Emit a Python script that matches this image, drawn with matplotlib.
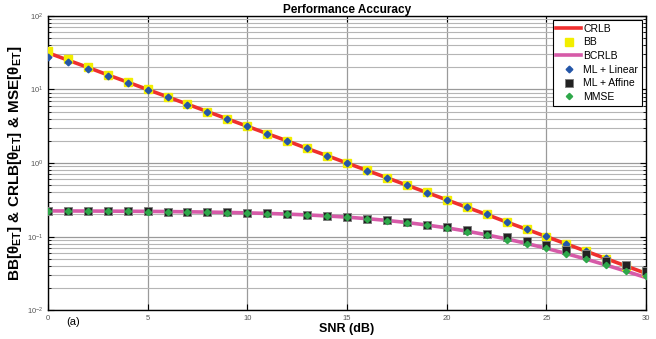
import matplotlib
matplotlib.use("Agg")
import matplotlib.pyplot as plt
from matplotlib.ticker import LogLocator, FixedLocator

plt.rcParams['font.family'] = ['Liberation Sans', 'DejaVu Sans']
plt.rcParams['mathtext.fontset'] = 'custom'
plt.rcParams['mathtext.rm'] = 'Liberation Sans'
plt.rcParams['mathtext.bf'] = 'Liberation Sans:bold'
plt.rcParams['mathtext.it'] = 'Liberation Sans:italic'

snr = list(range(0, 31))
crlb = [31.6, 25.1, 20.0, 15.8, 12.6, 10.0, 7.94, 6.31, 5.01, 3.98, 3.16,
        2.51, 2.00, 1.58, 1.26, 1.00, 0.794, 0.631, 0.501, 0.398, 0.316,
        0.251, 0.200, 0.158, 0.126, 0.100, 0.0794, 0.0631, 0.0501, 0.0398, 0.0316]
bb = [33.0, 25.6, 20.2, 15.9, 12.7, 10.0, 7.95, 6.32, 5.02, 3.99, 3.17,
      2.52, 2.00, 1.59, 1.26, 1.00, 0.795, 0.632, 0.502, 0.399, 0.317,
      0.252, 0.200, 0.159, 0.126, 0.100, 0.0795, 0.0632, 0.0502, 0.0399, 0.0330]
bcrlb = [0.2236, 0.2232, 0.2227, 0.2221, 0.2213, 0.2203, 0.2190, 0.2175, 0.2155,
         0.2132, 0.2103, 0.2067, 0.2024, 0.1972, 0.1911, 0.1838, 0.1755, 0.1660,
         0.1554, 0.1438, 0.1315, 0.1188, 0.1058, 0.0930, 0.0808, 0.0693, 0.0587,
         0.0493, 0.0410, 0.0338, 0.0277]
ml_linear = [27.9, 23.4, 18.8, 15.1, 12.3, 9.85, 7.85, 6.25, 4.98, 3.96, 3.15,
             2.50, 1.99, 1.58, 1.26, 1.00, 0.792, 0.630, 0.500, 0.397, 0.315,
             0.250, 0.200, 0.158, 0.126, 0.101, 0.0800, 0.0640, 0.0510, 0.0405, 0.0330]
ml_affine = [0.224, 0.223, 0.223, 0.222, 0.221, 0.220, 0.219, 0.217, 0.215,
             0.213, 0.210, 0.207, 0.202, 0.197, 0.191, 0.184, 0.176, 0.167,
             0.157, 0.146, 0.135, 0.123, 0.110, 0.098, 0.086, 0.078, 0.066,
             0.058, 0.047, 0.041, 0.034]
mmse = [0.223, 0.223, 0.222, 0.221, 0.220, 0.219, 0.218, 0.216, 0.214,
        0.212, 0.209, 0.205, 0.201, 0.196, 0.190, 0.182, 0.174, 0.164,
        0.153, 0.142, 0.130, 0.117, 0.104, 0.091, 0.079, 0.070, 0.058,
        0.049, 0.041, 0.034, 0.029]

fig = plt.figure(figsize=(6.56, 3.39), dpi=100)
ax = fig.add_axes([0.073, 0.085, 0.912, 0.868])

ax.semilogy(snr, crlb, color='#ef2f2f', lw=2.6, label='CRLB', zorder=3)
ax.semilogy(snr, bb, ls='none', marker='s', ms=6.0, mfc='#f2ee00', mec='#f2ee00',
            label='BB', zorder=4)
ax.semilogy(snr, bcrlb, color='#d65aa8', lw=2.6, label='BCRLB', zorder=3)
ax.semilogy(snr, ml_linear, ls='none', marker='D', ms=3.4, mfc='#2456a8', mec='#2456a8',
            label='ML + Linear', zorder=5)
ax.semilogy(snr, ml_affine, ls='none', marker='s', ms=5.8, mfc='#222222', mec='#808080',
            mew=0.7, label='ML + Affine', zorder=5)
ax.semilogy(snr, mmse, ls='none', marker='D', ms=3.2, mfc='#2ea84a', mec='#2ea84a',
            label='MMSE', zorder=6)

ax.set_xlim(0, 30)
ax.set_ylim(1e-2, 1e2)
ax.xaxis.set_major_locator(FixedLocator([0, 5, 10, 15, 20, 25, 30]))
ax.yaxis.set_major_locator(LogLocator(base=10, numticks=10))
ax.yaxis.set_minor_locator(LogLocator(base=10, subs=range(2, 10), numticks=10))
ax.grid(True, which='major', axis='both', color='#9a9a9a', lw=0.9)
ax.grid(True, which='minor', axis='y', color='#b5b5b5', lw=0.8)
ax.set_axisbelow(True)
ax.tick_params(which='both', direction='in', top=True, right=True,
               labelsize=5.5, labelcolor='#555555', colors='black')
ax.tick_params(which='major', length=4)
ax.tick_params(which='minor', length=2.5)
for s in ax.spines.values():
    s.set_linewidth(1.0)

ax.set_title('Performance Accuracy', fontsize=8.5, fontweight='bold', pad=2)
ax.set_xlabel('SNR (dB)', fontsize=9, fontweight='bold', labelpad=1)
ax.set_ylabel(r'BB[θ$_{\mathbf{ET}}$] & CRLB[θ$_{\mathbf{ET}}$] & MSE[θ$_{\mathbf{ET}}$]',
              fontsize=11, fontweight='bold', labelpad=2)
ax.text(0.9, -0.022, '(a)', transform=ax.get_xaxis_transform(), fontsize=8,
        va='top', ha='left')

leg = ax.legend(loc='upper right', fontsize=7.5, frameon=True, fancybox=False,
                edgecolor='black', framealpha=1, borderaxespad=0.4,
                handlelength=2.4, labelspacing=0.35, borderpad=0.35,
                handletextpad=0.2)
leg.get_frame().set_linewidth(0.8)

fig.savefig('out.png', dpi=100)
